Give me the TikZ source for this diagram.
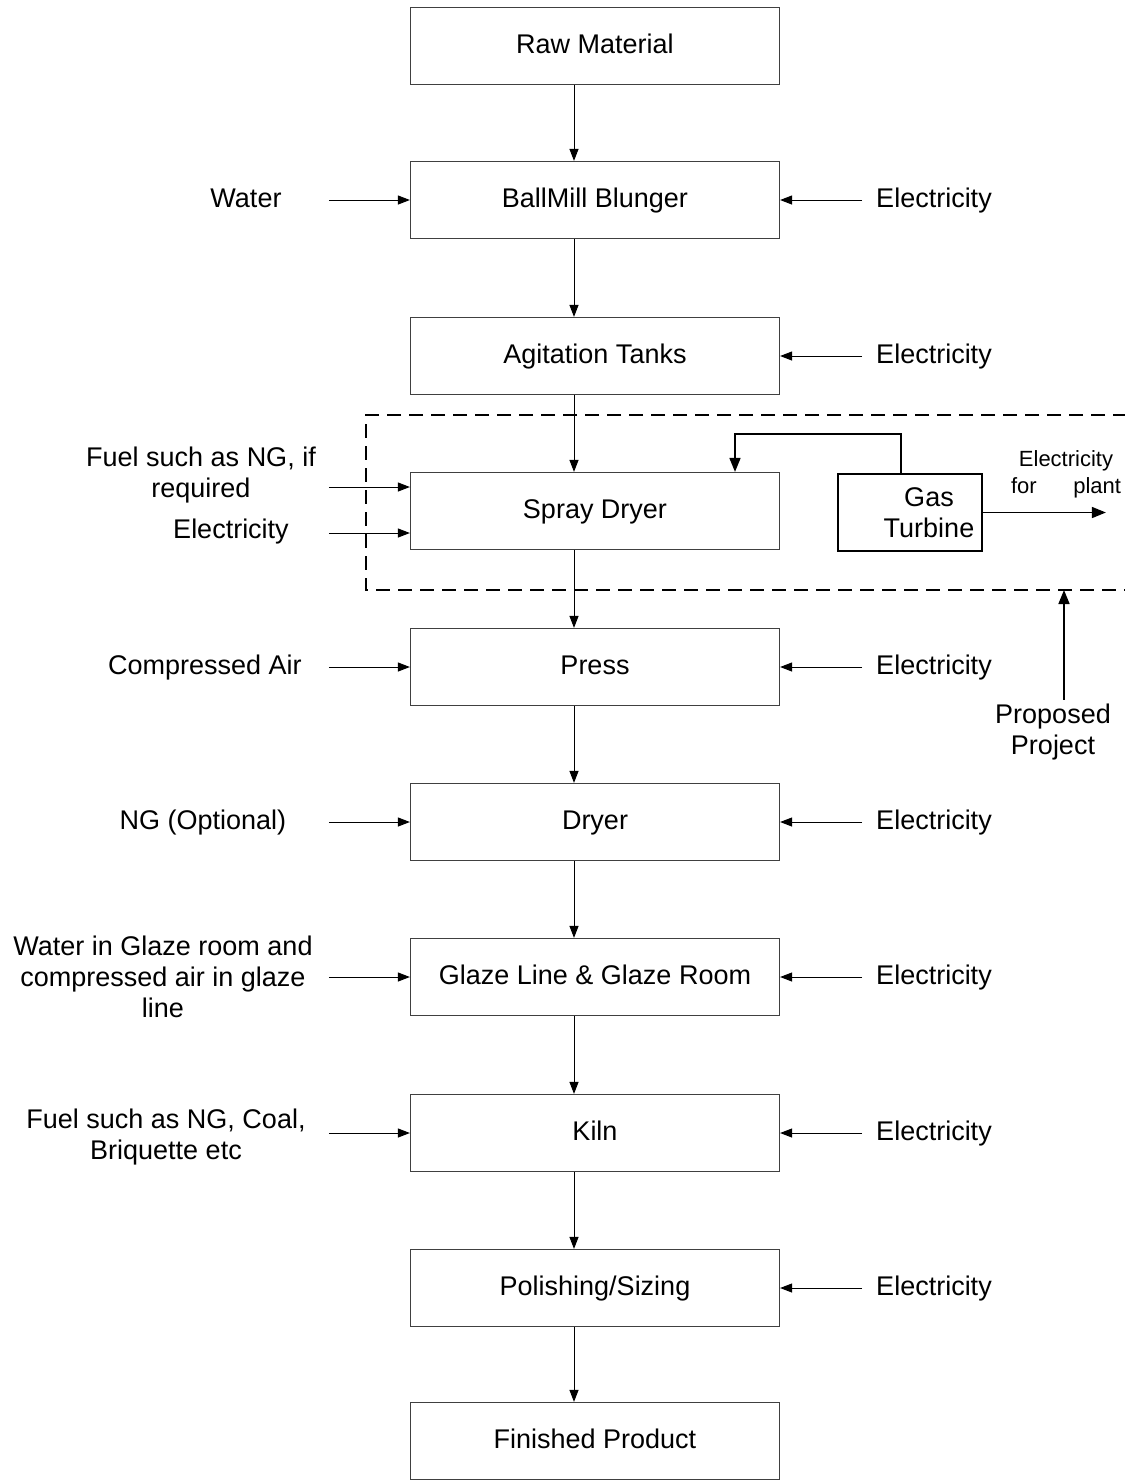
\documentclass[tikz,border=0pt]{standalone}
\usepackage{fontspec}
\setmainfont{Liberation Sans}
\usetikzlibrary{arrows.meta}
\tikzset{
  box/.style={draw=black!75, line width=0.6pt, minimum width=184.5pt, minimum height=38.5pt, inner sep=0pt, text height=0.76em, text depth=0.04em},
  gasbox/.style={draw, line width=0.9pt, minimum width=72pt, minimum height=38.5pt, inner sep=0pt},
  arr/.style={-{Triangle[length=6pt,width=4.5pt]}, line width=0.5pt},
  bigarr/.style={-{Triangle[length=7pt,width=5.5pt]}, line width=0.8pt},
  txt/.style={align=center, inner sep=2pt},
  lbl/.style={inner sep=2pt, text height=0.76em, text depth=0.04em},
}
\begin{document}
\begin{tikzpicture}[x=0.5pt,y=-0.5pt,font=\fontsize{13.5}{15.5}\selectfont]
\useasboundingbox (0,0) rectangle (1125,1480);
\foreach \n/\y/\t in {1/46/{Raw Material},2/200/{BallMill Blunger},3/356/{Agitation Tanks},4/511/{Spray Dryer},5/667/{Press},6/822/{Dryer},7/977/{Glaze Line \& Glaze Room},8/1133/{Kiln},9/1288/{Polishing/Sizing},10/1441/{Finished Product}}
\node[box] (b\n) at (595,\y) {\t};
\foreach \a [count=\b from 2] in {1,...,9}
\draw[arr] ([xshift=-10.5pt]b\a.south) -- ([xshift=-10.5pt]b\b.north);
\foreach \n in {2,5,6,7,8}
\draw[arr] ([xshift=-40.5pt]b\n.west) -- (b\n.west);
\foreach \n in {2,3,5,6,7,8,9}{
\draw[arr] ([xshift=41pt]b\n.east) -- (b\n.east);
\node[lbl] (e\n) at ([xshift=169.5pt]b\n.center) {Electricity};
}
\draw[arr] ([xshift=-40.5pt,yshift=12pt]b4.west) -- ([yshift=12pt]b4.west);
\draw[arr] ([xshift=-40.5pt,yshift=-11pt]b4.west) -- ([yshift=-11pt]b4.west);
\node[lbl] (water) at (246,200) {Water};
\node[txt] (fuelng) at (201,475) {Fuel such as NG, if\\required};
\node[lbl] (elsd) at (231,531) {Electricity};
\node[lbl] (cair) at (205,667) {Compressed Air};
\node[lbl] (ngopt) at (203,822) {NG (Optional)};
\node[txt] (wglaze) at (163,977) {Water in Glaze room and\\compressed air in glaze\\line};
\node[txt] (fuelkiln) at (166,1137) {Fuel such as NG, Coal,\\Briquette etc};
\draw[line width=0.6pt, dash pattern=on 7pt off 4pt] (1127,415) -- (366,415) -- (366,590) -- (1127,590);
\coordinate (projs) at (1064,590);
\node[gasbox] (gt) at (910,512.5) {};
\node[txt, inner sep=0pt] (gtt) at (929,512.5) {Gas\\Turbine};
\draw[bigarr] ([xshift=-4.5pt]gt.north) -- ++(0,-39) -| ([xshift=70pt]b4.north);
\draw[bigarr] (gt.east) -- ++(123,0) coordinate (elout);
\node[txt, text width=55pt, inner sep=0pt, font=\fontsize{11}{13.5}\selectfont] (elplant) at (1066,474) {Electricity\\for\hfill plant};
\node[txt] (pp) at (1053,732) {Proposed\\Project};
\draw[bigarr] ([xshift=5.5pt]pp.north) -- (projs);
\end{tikzpicture}
\end{document}
